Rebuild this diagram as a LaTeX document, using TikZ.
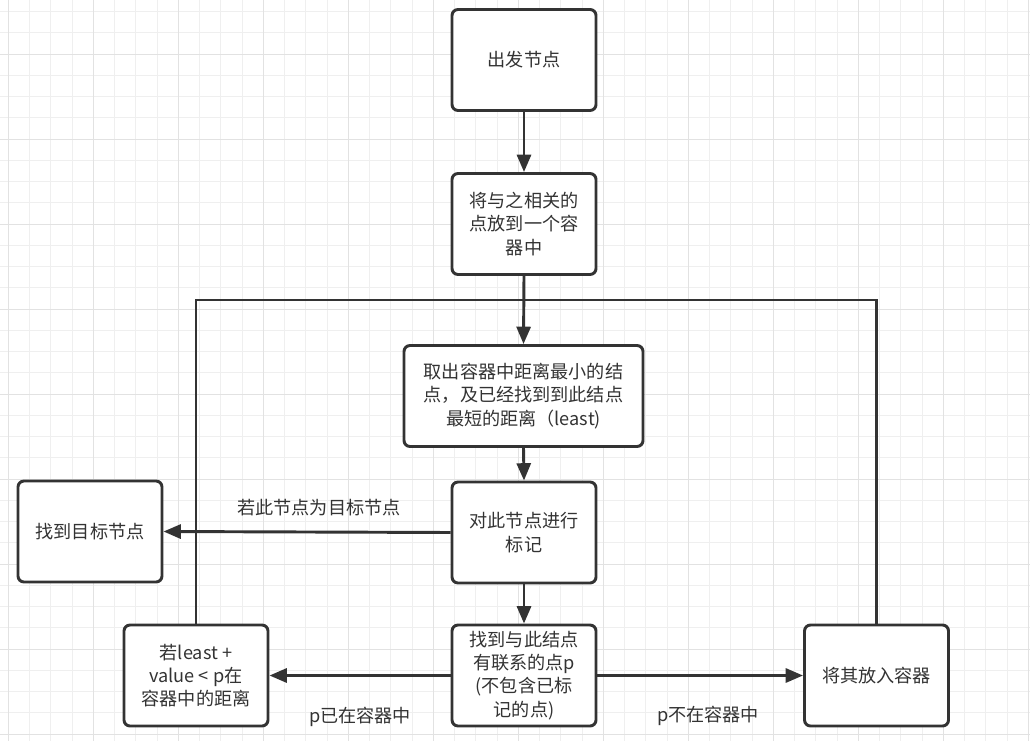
\documentclass[tikz,border=0pt]{standalone}
\usepackage{fontspec}
\setmainfont{Noto Sans CJK SC}
\usetikzlibrary{arrows.meta}
\definecolor{ink}{HTML}{333333}
\definecolor{gminor}{HTML}{EFEFEF}
\definecolor{gmajor}{HTML}{E2E2E2}
\tikzset{
  gridminor/.style={draw=gminor, line width=0.75pt},
  gridmajor/.style={draw=gmajor, line width=0.9pt},
  box/.style={draw=ink, line width=2.2pt, rounded corners=4.5pt, fill=white,
    minimum width=108pt, minimum height=75.75pt, inner sep=0pt, align=center,
    text=ink, font=\fontsize{13.6pt}{17.4pt}\selectfont},
  wire/.style={draw=ink, line width=2.2pt},
  arr/.style={wire, -{Triangle[length=13pt,width=10.5pt]}},
  lbl/.style={text=ink, font=\fontsize{13.6pt}{17.4pt}\selectfont, inner sep=0pt}
}
\begin{document}
\begin{tikzpicture}[x=0.75pt,y=-0.75pt]
\useasboundingbox (0,0) rectangle (1030,741);
\fill[white] (0,0) rectangle (1030,741);
\foreach \i in {0,...,48} \draw[gridminor] ({8.3+21.25*\i},0) -- ({8.3+21.25*\i},741);
\foreach \j in {0,...,34} \draw[gridminor] (0,{11.7+21.25*\j}) -- (1030,{11.7+21.25*\j});
\foreach \i in {0,...,12} \draw[gridmajor] ({8.3+85*\i},0) -- ({8.3+85*\i},741);
\foreach \j in {0,...,8} \draw[gridmajor] (0,{54.2+85*\j}) -- (1030,{54.2+85*\j});

\node[box] (start) at (524,60) {出发节点};
\node[box] (rel) at (524,224) {将与之相关的\\点放到一个容\\器中};
\node[box, minimum width=179.25pt] (take) at (523.5,396) {取出容器中距离最小的结\\点，及已经找到到此结点\\最短的距离（least)};
\node[box] (mark) at (524,532.5) {对此节点进行\\标记};
\node[box] (found) at (90,531.5) {找到目标节点};
\node[box] (upd) at (196,675.5) {若least +\\value < p在\\容器中的距离};
\node[box] (nb) at (524,675.5) {找到与此结点\\有联系的点p\\(不包含已标\\记的点)};
\node[box] (put) at (876.5,675.5) {将其放入容器};

\coordinate (top) at (524,300);

\draw[wire] (upd.north) |- (top);
\draw[wire] (put.north) |- (top);
\draw[arr] (start.south) -- (rel.north);
\draw[arr] (rel.south) -- (take.north);
\draw[arr] (take.south) -- (mark.north);
\draw[arr] (mark.south) -- (nb.north);
\draw[arr] (mark.west) -- (found.east);
\draw[arr] (nb.west) -- (upd.east);
\draw[arr] (nb.east) -- (put.west);

\node[lbl] (l1) at (319,508) {若此节点为目标节点};
\node[lbl] (l2) at (360,717) {p已在容器中};
\node[lbl] (l3) at (708,716) {p不在容器中};
\end{tikzpicture}
\end{document}
